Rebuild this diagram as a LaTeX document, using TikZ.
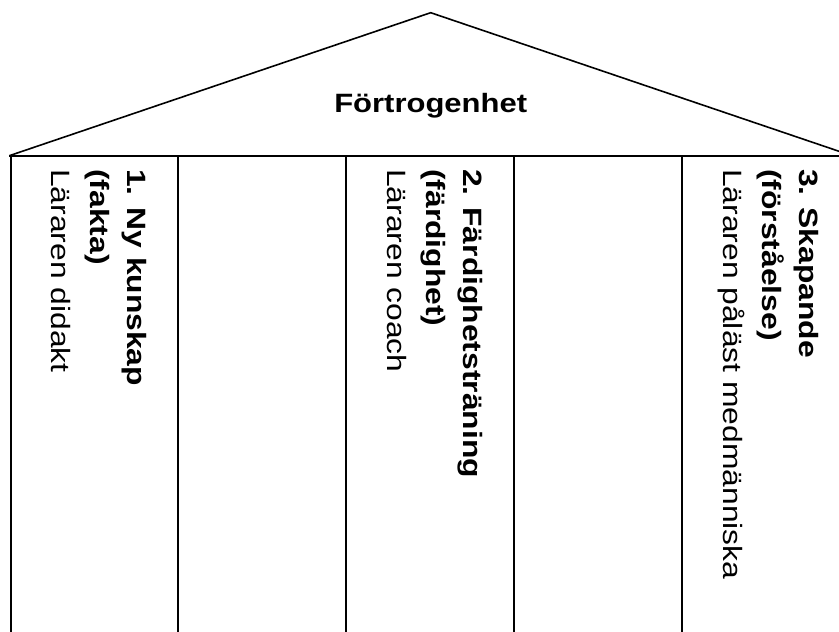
\documentclass[tikz,border=0pt]{standalone}
\usepackage{fontspec}
\setmainfont{Liberation Sans}
\begin{document}
\begin{tikzpicture}[x=1pt,y=-1pt,
  wall/.style={line width=1.6pt, line join=miter},
  roofline/.style={line width=1.6pt},
  lbl/.style={rotate=-90, xscale=1.2, anchor=base west, inner sep=0pt, font=\fontsize{26.5}{30}\selectfont},
  lblb/.style={lbl, font=\fontsize{26.5}{30}\selectfont\bfseries},
  title/.style={xscale=1.17, anchor=base, inner sep=0pt, font=\fontsize{26.5}{30}\selectfont\bfseries}]
\useasboundingbox (0,0) rectangle (839,632);
\clip (0,0) rectangle (839,632);
% roof
\coordinate (rl) at (9.3,155.7);
\coordinate (apex) at (430.7,12.7);
\coordinate (rr) at (852,155.7);
\draw[roofline] (rl) -- (apex) -- (rr);
% top beam and columns
\draw[wall] (rl) -- (rr);
\foreach \x/\n in {10.7/a,178/b,346/c,514/d,682/e,850/f}{
  \coordinate (t\n) at (\x,155.7);
  \coordinate (b\n) at (\x,640);
  \draw[wall] (t\n) -- (b\n);
}
% title
\node[title] (titel) at (430.7,112) {Förtrogenhet};
% column 1
\node[lblb] (c1a) at (127.7,169) {1. Ny kunskap};
\node[lblb] (c1b) at (90.5,169) {(fakta)};
\node[lbl]  (c1c) at (51,169) {Läraren didakt};
% column 2
\node[lblb] (c2a) at (463,169) {2. Färdighetsträning};
\node[lblb] (c2b) at (426,169) {(färdighet)};
\node[lbl]  (c2c) at (387,169) {Läraren coach};
% column 3
\node[lblb] (c3a) at (799,169) {3. Skapande};
\node[lblb] (c3b) at (762,169) {(förståelse)};
\node[lbl]  (c3c) at (723,169) {Läraren påläst medmänniska};
\end{tikzpicture}
\end{document}
